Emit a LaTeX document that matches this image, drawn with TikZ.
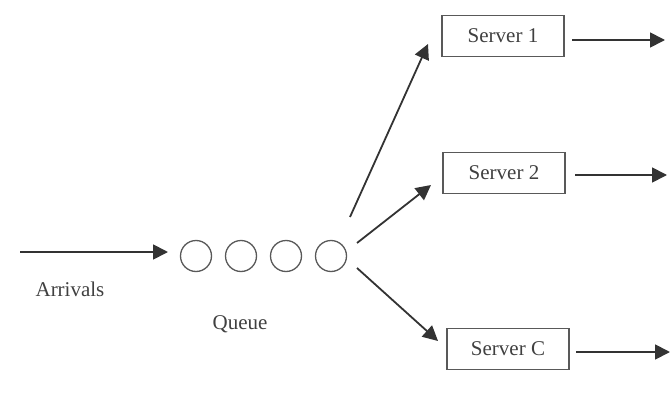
\documentclass[tikz,border=0pt]{standalone}
\usepackage{fontspec}
\setmainfont{Liberation Serif}
\usetikzlibrary{arrows.meta}
\begin{document}
\begin{tikzpicture}[x=1pt,y=-1pt,
  lbl/.style={font=\fontsize{21}{23}\selectfont, text=black!75},
  srv/.style={draw=black!65, line width=1.3pt, minimum width=122pt, minimum height=41pt, inner sep=0pt, font=\fontsize{21}{23}\selectfont, text=black!75},
  qc/.style={circle, draw=black!65, line width=1.3pt, minimum size=31pt, inner sep=0pt},
  arr/.style={draw=black!80, line width=1.8pt, -{Triangle[length=15pt,width=15pt]}}]
\useasboundingbox (0,0) rectangle (672,412);
\node[srv] (s1) at (503,36) {Server 1};
\node[srv] (s2) at (504,173) {Server 2};
\node[srv] (sc) at (508,349) {Server C};
\node[qc] (q1) at (196,256) {};
\node[qc] (q2) at (241,256) {};
\node[qc] (q3) at (286,256) {};
\node[qc] (q4) at (331,256) {};
\coordinate (in) at (20,252);
\coordinate (ia) at (168,252);
\coordinate (o1) at (665,40);
\coordinate (o2) at (667,175);
\coordinate (oc) at (670,352);
\coordinate (t1) at (428,44);
\coordinate (t2) at (431,185);
\coordinate (tc) at (438,341);
\coordinate (f1) at (350,217);
\coordinate (f2) at (357,243);
\coordinate (fc) at (357,268);
\coordinate (e1) at (572,40);
\coordinate (e2) at (575,175);
\coordinate (ec) at (576,352);
\node[lbl] (arrl) at (70,289) {Arrivals};
\node[lbl] (ql) at (240,324) {Queue};
\draw[arr] (in) -- (ia);
\draw[arr] (f1) -- (t1);
\draw[arr] (f2) -- (t2);
\draw[arr] (fc) -- (tc);
\draw[arr] (e1) -- (o1);
\draw[arr] (e2) -- (o2);
\draw[arr] (ec) -- (oc);
\end{tikzpicture}
\end{document}
